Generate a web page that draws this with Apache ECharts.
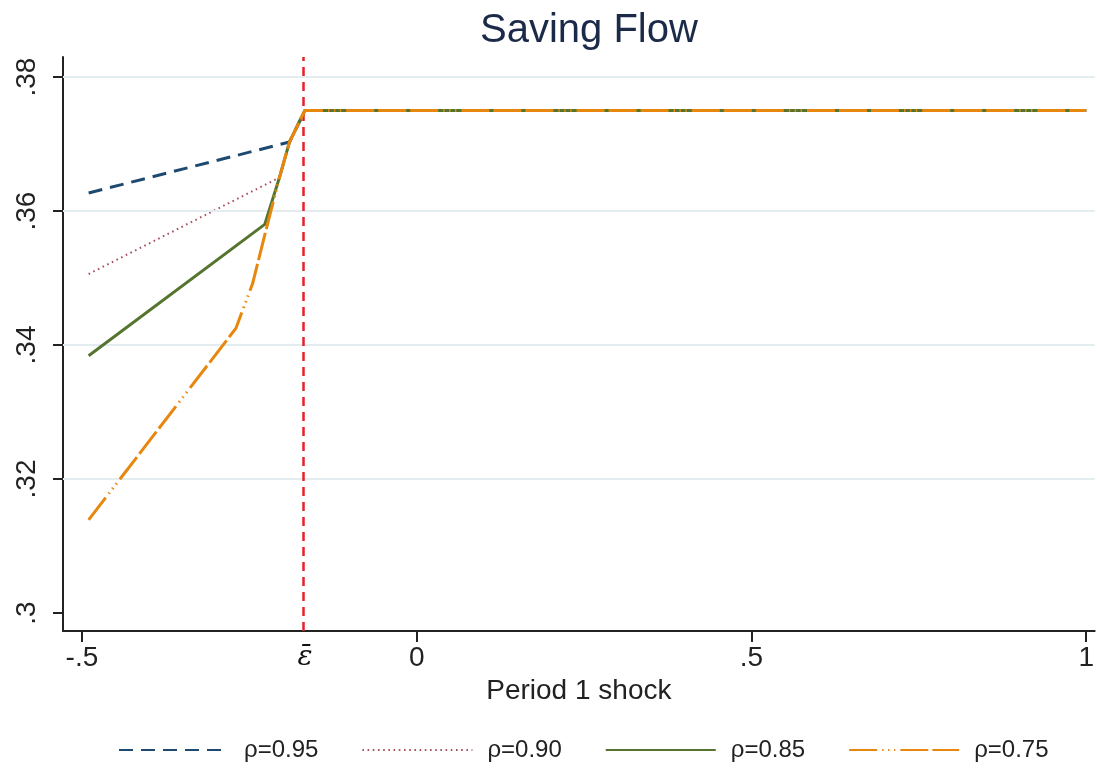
<!DOCTYPE html>
<html>
<head>
<meta charset="utf-8">
<title>Saving Flow</title>
<script src="https://cdn.jsdelivr.net/npm/echarts@6/dist/echarts.min.js"></script>
<style>
  html, body { margin: 0; padding: 0; background: #ffffff; }
  #chart { width: 1097px; height: 768px; }
</style>
</head>
<body>
<div id="chart"></div>
<script>
// Threshold shock (epsilon bar) where all saving paths reach the flat level
const epsBar = -0.167;

// Period-1 shock values and saving flow for each persistence rho
const rho95X = [-0.49, -0.19, -0.167, 1];
const rho95Y = [0.3627, 0.3703, 0.375, 0.375];

const rho90X = [-0.49, -0.205, -0.19, -0.167, 1];
const rho90Y = [0.3506, 0.3650, 0.3703, 0.375, 0.375];

const rho85X = [-0.49, -0.227, -0.205, -0.19, -0.167, 1];
const rho85Y = [0.3384, 0.3580, 0.3650, 0.3703, 0.375, 0.375];

const rho75X = [-0.49, -0.27, -0.245, -0.227, -0.205, -0.19, -0.167, 1];
const rho75Y = [0.3139, 0.3425, 0.3492, 0.3564, 0.3650, 0.3703, 0.375, 0.375];

const seriesNames = ['ρ=0.95', 'ρ=0.90', 'ρ=0.85', 'ρ=0.75'];

// Axis ticks and labels
const xTickValues = [-0.5, 0, 0.5, 1];
const xLabelValues = [-0.5, epsBar, 0, 0.5, 1];
const yTickValues = [0.3, 0.32, 0.34, 0.36, 0.38];
const yGridValues = [0.32, 0.34, 0.36, 0.38];

const pairs = (xs, ys) => xs.map((x, i) => [x, ys[i]]);
const fmt = v => {
  const s = String(+v.toFixed(4));
  return s.replace(/^(-?)0\./, '$1.');
};

const FONT = "'Liberation Sans', Arial, sans-serif";

const chart = echarts.init(document.getElementById('chart'), null, { renderer: 'canvas' });

const lineSeries = (name, xs, ys, color, width, dash, z) => ({
  name: name,
  type: 'line',
  data: pairs(xs, ys),
  showSymbol: false,
  symbol: 'none',
  z: z,
  lineStyle: { color: color, width: width, type: dash, cap: 'butt' },
  itemStyle: { color: color },
  animation: false
});

chart.setOption({
  backgroundColor: '#ffffff',
  animation: false,
  title: {
    text: 'Saving Flow',
    left: 475,
    top: 6,
    textStyle: { fontFamily: FONT, fontSize: 40, fontWeight: 'normal', color: '#1c2a4a' }
  },
  grid: { left: 63, right: 0, top: 57, bottom: 137, containLabel: false },
  legend: {
    left: 118,
    top: 738,
    padding: 0,
    itemWidth: 110,
    itemHeight: 14,
    itemGap: 43,
    data: seriesNames,
    itemStyle: { opacity: 0 },
    textStyle: { fontFamily: FONT, fontSize: 24, color: '#222222', padding: [0, 0, 0, 10] }
  },
  xAxis: {
    type: 'value',
    min: -0.5283,
    max: 1.0127,
    name: 'Period 1 shock',
    nameLocation: 'middle',
    nameGap: 44,
    nameTextStyle: { fontFamily: FONT, fontSize: 28, color: '#222222' },
    axisLine: { show: true, onZero: false, lineStyle: { color: '#222222', width: 2 } },
    axisTick: { show: true, length: 11, customValues: xTickValues, lineStyle: { color: '#222222', width: 2 } },
    axisLabel: {
      customValues: xLabelValues,
      margin: 13,
      fontFamily: FONT,
      fontSize: 28,
      color: '#222222',
      formatter: v => (Math.abs(v - epsBar) < 1e-9 ? '{eps|ε\u0304}' : fmt(v)),
      rich: {
        eps: { fontFamily: "'DejaVu Serif', serif", fontStyle: 'italic', fontSize: 28, color: '#111111' }
      }
    },
    splitLine: { show: false }
  },
  yAxis: {
    type: 'value',
    min: 0.29731,
    max: 0.38299,
    axisLine: { show: true, onZero: false, lineStyle: { color: '#222222', width: 2 } },
    axisTick: { show: true, length: 10, customValues: yTickValues, lineStyle: { color: '#222222', width: 2 } },
    axisLabel: {
      customValues: yTickValues,
      rotate: 90,
      margin: 22,
      fontFamily: FONT,
      fontSize: 28,
      color: '#222222',
      formatter: v => fmt(v)
    },
    splitLine: { show: false }
  },
  series: [
    {
      // horizontal reference lines
      type: 'line',
      data: [],
      silent: true,
      z: 1,
      markLine: {
        silent: true,
        symbol: 'none',
        label: { show: false },
        animation: false,
        lineStyle: { color: '#e3ecee', width: 2, type: 'solid' },
        data: yGridValues.map(v => ({ yAxis: v }))
      }
    },
    lineSeries(seriesNames[0], rho95X, rho95Y, '#1f4a70', 3, [14, 8], 3),
    lineSeries(seriesNames[1], rho90X, rho90Y, '#a85060', 2, [1.6, 3.6], 4),
    lineSeries(seriesNames[2], rho85X, rho85Y, '#55752f', 3, 'solid', 5),
    lineSeries(seriesNames[3], rho75X, rho75Y, '#e8870e', 3,
      [28, 5, 1.4, 4.5, 1.4, 4.5, 1.4, 5, 28, 4, 28, 4], 6),
    {
      // threshold marker at epsilon bar
      type: 'line',
      data: [],
      silent: true,
      z: 10,
      markLine: {
        silent: true,
        symbol: 'none',
        label: { show: false },
        animation: false,
        lineStyle: { color: '#e8202a', width: 2.5, type: [9, 6] },
        data: [{ xAxis: epsBar }]
      }
    }
  ]
});
</script>
</body>
</html>
